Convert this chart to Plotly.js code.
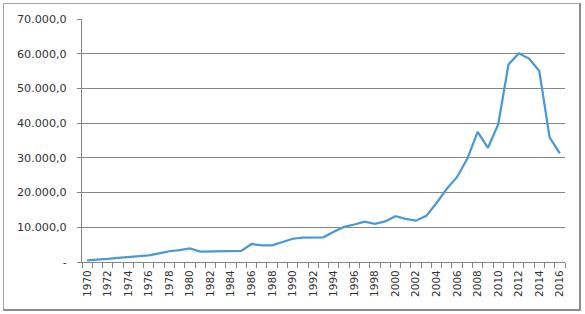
<!DOCTYPE html>
<html>
<head>
<meta charset="utf-8">
<script src="https://cdn.plot.ly/plotly-3.0.1.min.js"></script>
<style>
html,body{margin:0;padding:0;background:#fff;}
#wrap{position:relative;width:585px;height:314px;}
#chart{position:absolute;left:0;top:0;width:585px;height:314px;}
#frame{position:absolute;left:3px;top:3px;width:575px;height:305px;border:1px solid #a6a6a6;border-right:2px solid #8c8c8c;border-bottom:2px solid #8c8c8c;pointer-events:none;}
</style>
</head>
<body>
<div id="wrap"><div id="chart"></div><div id="frame"></div></div>
<script>
const years = [1970,1971,1972,1973,1974,1975,1976,1977,1978,1979,1980,1981,1982,1983,1984,1985,1986,1987,1988,1989,1990,1991,1992,1993,1994,1995,1996,1997,1998,1999,2000,2001,2002,2003,2004,2005,2006,2007,2008,2009,2010,2011,2012,2013,2014,2015,2016];
const values = [500,600,900,1200,1500,1600,1900,2500,3100,3400,3900,3000,3000,3000,3200,3200,5200,4800,4800,5700,6700,7000,7100,7100,8700,10100,10800,11600,11000,11700,13200,12400,11900,13300,17000,21100,24500,29800,37500,32900,39600,56900,60100,58600,55000,35900,31300];
const yTickVals = [0,10000,20000,30000,40000,50000,60000,70000];
const yTickText = ["-","10.000,0","20.000,0","30.000,0","40.000,0","50.000,0","60.000,0","70.000,0"];

const cats = years.map(String);
const xTickText = years.map(y => (y % 2 === 0 ? String(y) : ""));

const trace = {
  x: cats, y: values, type: "scatter", mode: "lines",
  line: {color: "#4a98d6", width: 2.25},
  hoverinfo: "skip"
};
const yfont = {family: "DejaVu Sans, Verdana, sans-serif", size: 11.2, color: "#333333"};
const xfont = {family: "DejaVu Sans, Verdana, sans-serif", size: 10.5, color: "#333333"};
const layout = {
  width: 585, height: 314,
  margin: {l: 82, r: 20, t: 19, b: 52},
  paper_bgcolor: "#ffffff", plot_bgcolor: "#ffffff",
  showlegend: false,
  font: yfont,
  xaxis: {
    type: "category",
    tickmode: "array", tickvals: cats, ticktext: xTickText,
    tickson: "boundaries", ticks: "outside", ticklen: 5, tickcolor: "#868686",
    tickangle: -90, tickfont: xfont, ticklabelstandoff: 3,
    showline: true, linecolor: "#868686", linewidth: 1,
    showgrid: false, zeroline: false,
    range: [-0.5, years.length - 0.5]
  },
  yaxis: {
    range: [0, 70000],
    tickmode: "array", tickvals: yTickVals, ticktext: yTickText,
    ticks: "outside", ticklen: 4, tickcolor: "#868686", ticklabelstandoff: 8,
    showline: true, linecolor: "#868686", linewidth: 1,
    showgrid: true, gridcolor: "#868686", gridwidth: 1,
    zeroline: false, tickfont: yfont
  }
};
Plotly.newPlot("chart", [trace], layout, {staticPlot: true, displayModeBar: false});
</script>
</body>
</html>
